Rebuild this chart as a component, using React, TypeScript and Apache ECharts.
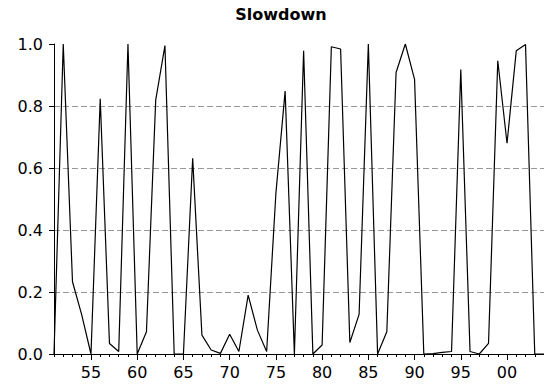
import React, { useEffect, useRef } from "react";
import * as echarts from "echarts";

// Annual observations, 1951–2004
const years: string[] = [];
for (let y = 1951; y <= 2004; y++) years.push(String(y));

const slowdown: number[] = [
  0.0, 1.0, 0.233, 0.126, 0.0, 0.823, 0.034, 0.008, 1.0, 0.0,
  0.072, 0.819, 0.995, 0.0, 0.0, 0.631, 0.061, 0.013, 0.002, 0.064,
  0.008, 0.19, 0.077, 0.008, 0.518, 0.848, 0.0, 0.978, 0.0, 0.029,
  0.991, 0.984, 0.037, 0.128, 1.0, 0.0, 0.072, 0.908, 1.0, 0.886,
  0.0, 0.001, 0.005, 0.008, 0.918, 0.008, 0.0, 0.034, 0.946, 0.68,
  0.978, 0.998, 0.0, 0.0,
];

const yTicks = [0, 0.2, 0.4, 0.6, 0.8, 1.0];

const FONT = "DejaVu Sans";
const isMajorYear = (_i: number, v: string) => Number(v) % 5 === 0;

export default function App() {
  const ref = useRef<HTMLDivElement>(null);

  useEffect(() => {
    if (!ref.current) return;
    const chart = echarts.init(ref.current, undefined, { renderer: "svg" });
    chart.setOption({
      animation: false,
      backgroundColor: "#ffffff",
      graphic: [
        {
          type: "text",
          x: 281,
          y: 6,
          style: {
            text: "Slowdown",
            textAlign: "center",
            textVerticalAlign: "top",
            fontFamily: FONT,
            fontSize: 16,
            fontWeight: "bold",
            fill: "#000",
          },
        },
      ],
      grid: { left: 54, top: 44, width: 491, height: 310, containLabel: false },
      xAxis: [
        {
          type: "category",
          data: years,
          boundaryGap: false,
          position: "bottom",
          axisLine: { show: true, lineStyle: { color: "#000", width: 1 } },
          axisTick: { show: true, interval: isMajorYear, length: 6, lineStyle: { color: "#000" } },
          axisLabel: {
            interval: isMajorYear,
            margin: 10,
            formatter: (v: string) => v.slice(2),
            fontFamily: FONT,
            fontSize: 16,
            color: "#000",
          },
          splitLine: { show: false },
        },
        {
          type: "category",
          data: years,
          boundaryGap: false,
          position: "bottom",
          offset: 0,
          axisLine: { show: false },
          axisTick: { show: true, interval: 0, length: 3, lineStyle: { color: "#000" } },
          axisLabel: { show: false },
          splitLine: { show: false },
        },
      ],
      yAxis: {
        type: "value",
        min: yTicks[0],
        max: yTicks[yTicks.length - 1],
        interval: 0.2,
        axisLine: { show: true, lineStyle: { color: "#000", width: 1 } },
        axisTick: { show: true, length: 5, lineStyle: { color: "#000" } },
        axisLabel: {
          margin: 11,
          formatter: (v: number) => v.toFixed(1),
          fontFamily: FONT,
          fontSize: 16,
          color: "#000",
        },
        splitLine: {
          show: true,
          showMinLine: false,
          showMaxLine: false,
          lineStyle: { color: "#999", type: [6, 3], width: 1 },
        },
      },
      series: [
        {
          type: "line",
          data: slowdown,
          xAxisIndex: 0,
          symbol: "none",
          lineStyle: { color: "#000", width: 1.2 },
          z: 3,
        },
      ],
    });
    return () => chart.dispose();
  }, []);

  return (
    <div
      ref={ref}
      style={{ position: "absolute", left: 0, top: 0, width: 544, height: 388 }}
    />
  );
}
